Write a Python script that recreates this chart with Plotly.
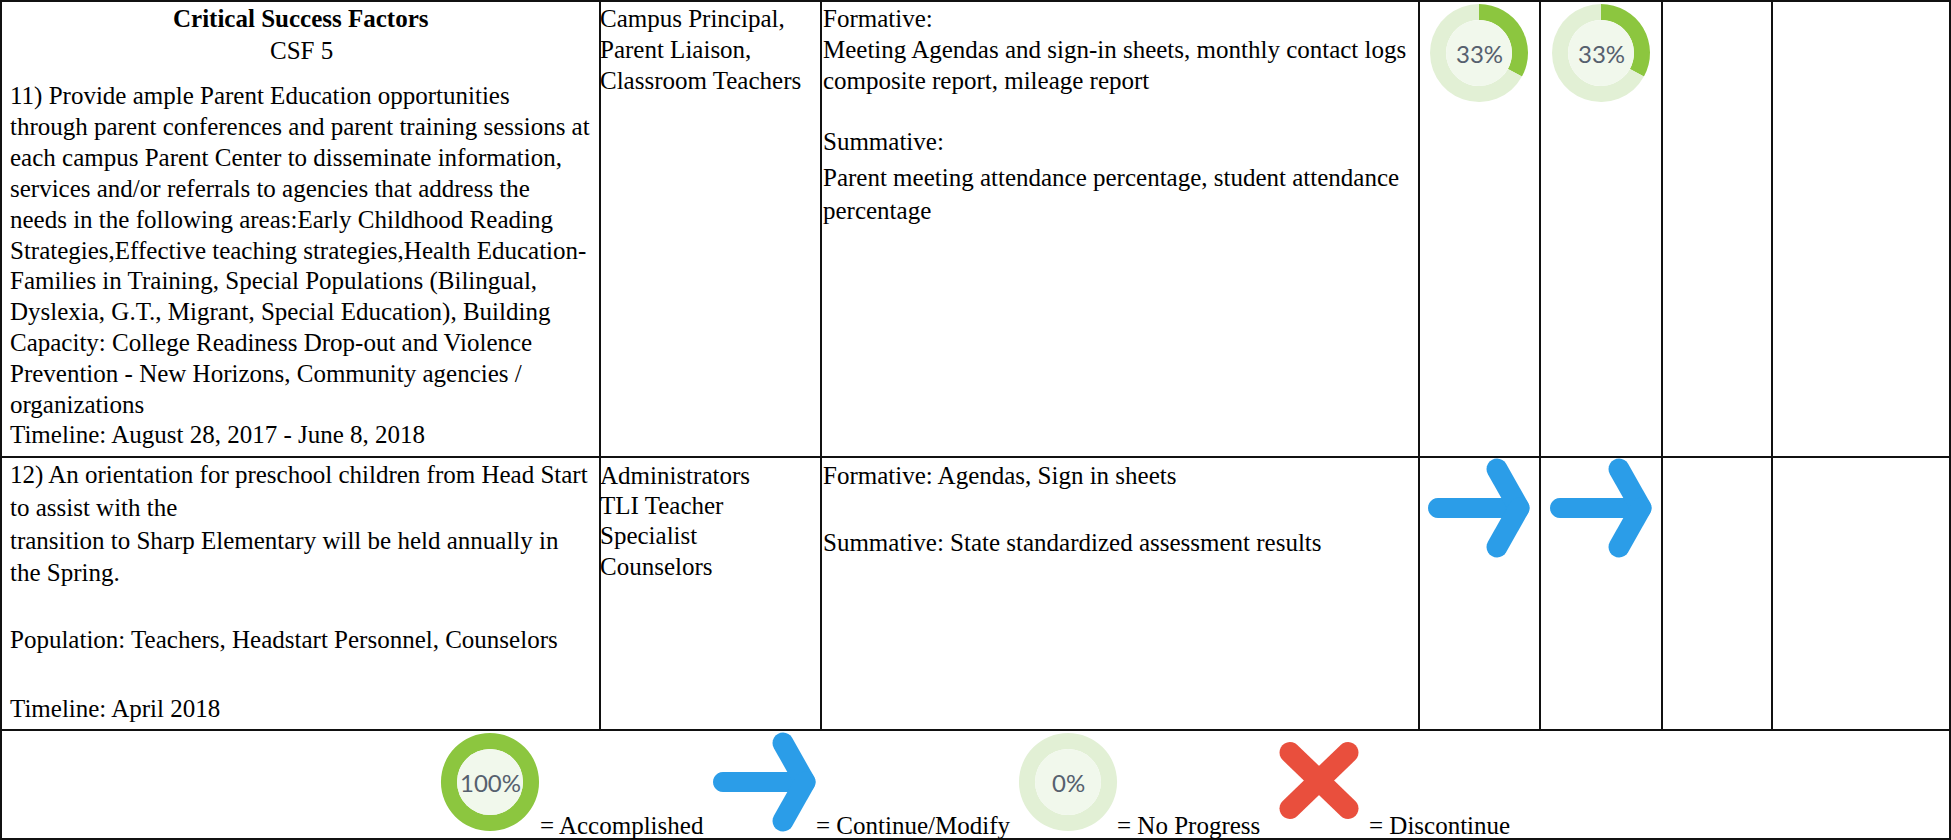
import math
import plotly.graph_objects as go

W, H = 1951, 840
SERIF = "Liberation Serif"
FS = 25

# ---- table structure
col_lines = [1419, 1540, 1662, 1772]
full_col_lines = [600, 821]
row_lines = [457, 730]

# ---- text content: (text, x, y)
csf_head = [("<b>Critical Success Factors</b>", 301, 18), ("CSF 5", 301, 50)]
csf_11 = ["11) Provide ample Parent Education opportunities",
          "through parent conferences and parent training sessions at",
          "each campus Parent Center to disseminate information,",
          "services and/or referrals to agencies that address the",
          "needs in the following areas:Early Childhood Reading",
          "Strategies,Effective teaching strategies,Health Education-",
          "Families in Training, Special Populations (Bilingual,",
          "Dyslexia, G.T., Migrant, Special Education), Building",
          "Capacity: College Readiness Drop-out and Violence",
          "Prevention - New Horizons, Community agencies /",
          "organizations",
          "Timeline: August 28, 2017 - June 8, 2018"]
who_11 = ["Campus Principal,", "Parent Liaison,", "Classroom Teachers"]
eval_11 = [("Formative:", 18), ("Meeting Agendas and sign-in sheets, monthly contact logs", 49),
           ("composite report, mileage report", 80), ("Summative:", 141),
           ("Parent meeting attendance percentage, student attendance", 177),
           ("percentage", 210)]
csf_12 = [("12) An orientation for preschool children from Head Start", 475),
          ("to assist with the", 507), ("transition to Sharp Elementary will be held annually in", 540),
          ("the Spring.", 572), ("Population: Teachers, Headstart Personnel, Counselors", 639),
          ("Timeline: April 2018", 708)]
who_12 = [("Administrators", 475), ("TLI Teacher", 505), ("Specialist", 535), ("Counselors", 566)]
eval_12 = [("Formative: Agendas, Sign in sheets", 475), ("Summative: State standardized assessment results", 542)]
legend_labels = [("= Accomplished", 540, 825), ("= Continue/Modify", 816, 825),
                 ("= No Progress", 1117, 825), ("= Discontinue", 1369, 825)]

# ---- donut gauges: label, progress percent, centre
donuts = [("33%", 33, 1479, 53), ("33%", 33, 1601, 53),
          ("100%", 100, 490, 782), ("0%", 0, 1068, 782)]
DIAM, INNER = 98, 66

# ---- arrow icons: shaft-left x, tip x, centre y
arrows = [(1428, 1530, 508), (1550, 1652, 508), (713, 816, 782)]
cross = (1319, 780.5)

GREEN, PALE, CORE = "#8CC63F", "#E2F0D5", "#F1F8EC"
BLUE, RED = "#2B9DE8", "#E94F3D"
INK = "#000000"


def capsule(x0, y0, x1, y1, r):
    a = math.atan2(y1 - y0, x1 - x0)
    pts = []
    for i in range(13):
        t = a + math.pi / 2 + math.pi * i / 12
        pts.append((x0 + r * math.cos(t), y0 + r * math.sin(t)))
    for i in range(13):
        t = a - math.pi / 2 + math.pi * i / 12
        pts.append((x1 + r * math.cos(t), y1 + r * math.sin(t)))
    return "M" + " L".join(f"{x:.1f},{y:.1f}" for x, y in pts) + " Z"


fig = go.Figure()
fig.add_trace(go.Scatter(x=[0, W], y=[0, H], mode="markers", marker=dict(opacity=0),
                         hoverinfo="skip", showlegend=False))

shapes = []


def line(x0, y0, x1, y1, w=2):
    shapes.append(dict(type="line", xref="x", yref="y", x0=x0, y0=y0, x1=x1, y1=y1,
                       line=dict(color="#111111", width=w)))


line(0, 1, W, 1, 2)
line(1, 0, 1, H, 2)
line(W - 1, 0, W - 1, H, 2)
line(0, H - 1, W, H - 1, 2)
for y in row_lines:
    line(0, y, W, y, 2)
for x in full_col_lines + col_lines:
    line(x, 0, x, row_lines[1], 2)


def icon(path, color):
    shapes.append(dict(type="path", xref="x", yref="y", path=path,
                       fillcolor=color, line=dict(width=0), layer="above"))


for x0, tip, cy in arrows:
    icon(capsule(x0 + 10, cy, tip - 12, cy, 10), BLUE)
    icon(capsule(tip - 33, cy - 39, tip - 11, cy, 10.5), BLUE)
    icon(capsule(tip - 33, cy + 39, tip - 11, cy, 10.5), BLUE)
cx, cy = cross
icon(capsule(cx - 29, cy - 28, cx + 29, cy + 28, 10.5), RED)
icon(capsule(cx + 29, cy - 28, cx - 29, cy + 28, 10.5), RED)


def dom(cx, cy, d):
    return dict(x=[(cx - d / 2) / W, (cx + d / 2) / W],
                y=[1 - (cy + d / 2) / H, 1 - (cy - d / 2) / H])


anns = []


def text(s, x, y, anchor="left", size=FS, font=SERIF, color=INK):
    anns.append(dict(text=s, x=x, y=y, xref="x", yref="y", xanchor=anchor, yanchor="middle",
                     showarrow=False, borderpad=0, borderwidth=0,
                     font=dict(family=font, size=size, color=color)))


for label, pct, cx, cy in donuts:
    fig.add_trace(go.Pie(values=[pct, 100 - pct], sort=False, direction="clockwise", rotation=0,
                         hole=INNER / DIAM, domain=dom(cx, cy, DIAM), textinfo="none",
                         hoverinfo="skip", showlegend=False,
                         marker=dict(colors=[GREEN, PALE], line=dict(width=0))))
    fig.add_trace(go.Pie(values=[1], domain=dom(cx, cy, INNER), textinfo="none", hoverinfo="skip",
                         showlegend=False, marker=dict(colors=[CORE], line=dict(width=0))))
    text(label, cx, cy, "center", size=24, font="Lato", color="#56606E")

for s, x, y in csf_head:
    text(s, x, y, "center")
for i, s in enumerate(csf_11):
    text(s, 10, 96 + 30.8 * i)
for i, s in enumerate(who_11):
    text(s, 600, 18 + 31 * i)
for s, y in eval_11:
    text(s, 823, y)
for s, y in csf_12:
    text(s, 10, y)
for s, y in who_12:
    text(s, 600, y)
for s, y in eval_12:
    text(s, 823, y)
for s, x, y in legend_labels:
    text(s, x, y)

fig.update_layout(
    width=W, height=H, margin=dict(l=0, r=0, t=0, b=0, pad=0),
    paper_bgcolor="white", plot_bgcolor="white", showlegend=False,
    xaxis=dict(range=[0, W], visible=False, fixedrange=True),
    yaxis=dict(range=[H, 0], visible=False, fixedrange=True),
    shapes=shapes, annotations=anns,
)
fig.write_html("out.html", config=dict(displayModeBar=False),
               post_script="document.body.style.margin='0';document.body.style.overflow='hidden';")
